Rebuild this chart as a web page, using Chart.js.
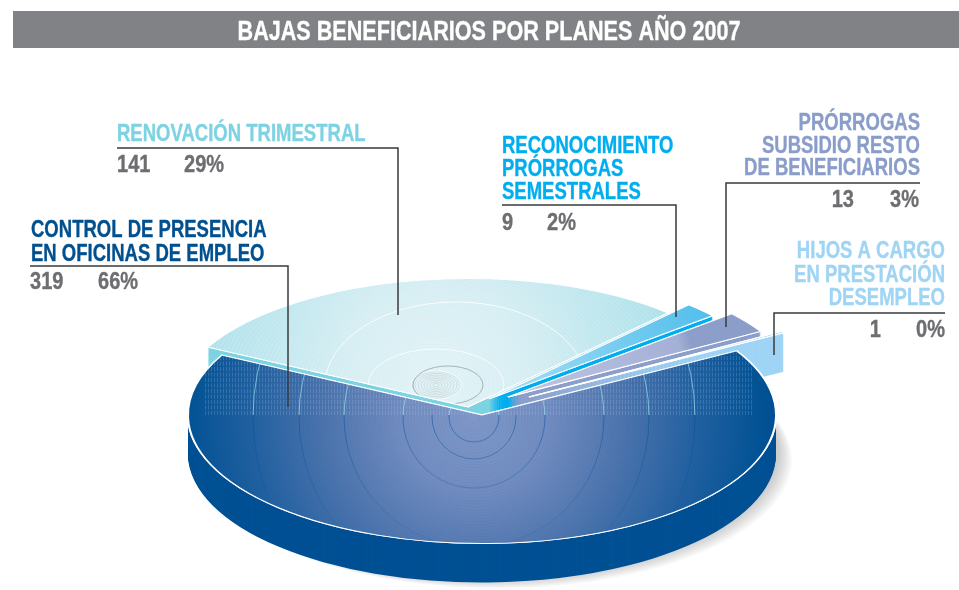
<!DOCTYPE html>
<html><head><meta charset="utf-8">
<style>html,body{margin:0;padding:0;background:#fff}#wrap{width:959px;height:590px}</style>
<script src="https://cdn.jsdelivr.net/npm/chart.js@4/dist/chart.umd.min.js"></script>
</head><body><div id="wrap"><canvas id="c" width="959" height="590"></canvas></div>
<script>
const titleText = "BAJAS BENEFICIARIOS POR PLANES AÑO 2007";
const categories = ["CONTROL DE PRESENCIA|EN OFICINAS DE EMPLEO","RENOVACIÓN TRIMESTRAL","RECONOCIMIENTO|PRÓRROGAS|SEMESTRALES","PRÓRROGAS|SUBSIDIO RESTO|DE BENEFICIARIOS","HIJOS A CARGO|EN PRESTACIÓN|DESEMPLEO"];
const values = [319,141,9,13,1];
const percents = ["66%","29%","2%","3%","0%"];
const labelColors = ["#00508f","#7dd3e2","#00aeef","#8a9dca","#9fd4f5"];
const wallColors = ["#005094","#7dd3e2","#00aeef","#8c9fcb","#9fd4f5"];
const explodeX = [12,-2,19,38,59];
const explodeY = [8,0,-8,-10,-10];
const drawOrder = [1,2,3,4,0];

const pieCy = 407, squash = 0.437, depth = 39;
const callouts = [
 {x:31,align:'left',base:[237,261],rule:[30,266,288,407],num:[[30,'left'],[98,'left']],numY:289},
 {x:117,align:'left',base:[141],rule:[117,148,398,315],num:[[117,'left'],[184,'left']],numY:172},
 {x:502,align:'left',base:[153,176,199],rule:[502,205,676,317],num:[[502,'left'],[547,'left']],numY:230},
 {x:920,align:'right',base:[130,153,175],rule:[920,183,726,327],num:[[854,'right'],[919,'right']],numY:207},
 {x:945,align:'right',base:[258,282,305],rule:[945,313,774,355],num:[[881,'right'],[945,'right']],numY:337}
];
const FONT = '"Liberation Sans",Arial,sans-serif';

function slicePath(ctx, a){
  ctx.beginPath();ctx.moveTo(a.x,a.y);
  ctx.arc(a.x,a.y,a.outerRadius,a.startAngle,a.endAngle);ctx.closePath();
}
function inSlice(ctx,chart,i,ox,oy,fn){
  const a=chart.getDatasetMeta(0).data[i];
  ctx.save();
  ctx.translate(chart.width/2+explodeX[i]-9.5+ox,pieCy+explodeY[i]+oy);
  ctx.scale(1,squash);ctx.translate(-a.x,-a.y);
  fn(a);ctx.restore();
}
function withOpts(a,o,fn){const s=a.options;a.options=Object.assign({},s,o);fn();a.options=s;}

function screenDecor(ctx,chart,i,fn){
  ctx.save();
  const a=chart.getDatasetMeta(0).data[i];
  ctx.translate(chart.width/2+explodeX[i]-9.5,pieCy+explodeY[i]);
  ctx.scale(1,squash);ctx.translate(-a.x,-a.y);
  slicePath(ctx,a);
  ctx.setTransform(1,0,0,1,0,0);
  ctx.clip();
  fn();
  ctx.restore();
}
function rad(ctx,x,y,r,stops){const g=ctx.createRadialGradient(x,y,0,x,y,r);stops.forEach(s=>g.addColorStop(s[0],s[1]));return g;}
function lin(ctx,x0,y0,x1,y1,stops){const g=ctx.createLinearGradient(x0,y0,x1,y1);stops.forEach(s=>g.addColorStop(s[0],s[1]));return g;}
function ring(ctx,x,y,rx,ry){ctx.beginPath();ctx.ellipse(x,y,rx,ry,0,0,Math.PI*2);ctx.stroke();}

function decorate(ctx,chart,i){
  const W=chart.width;
  if(i===0){
    screenDecor(ctx,chart,i,()=>{
      const cx=474,cy=417;
      ctx.fillStyle=rad(ctx,cx,cy,300,[[0,'#7f98c8'],[0.25,'#718cc0'],[0.5,'#4c74ad'],[0.75,'#2060a0'],[0.97,'#005294'],[1,'#005093']]);
      ctx.fillRect(0,300,W,290);
      ctx.lineWidth=.5;ctx.strokeStyle='rgba(40,80,150,.09)';
      for(let r=6;r<300;r+=3){ring(ctx,cx,cy,r,r);}
      const mains=[25,71,130,175,221];
      ctx.save();ctx.beginPath();ctx.rect(0,415,W,175);ctx.clip();
      ctx.lineWidth=.8;ctx.strokeStyle=lin(ctx,0,415,0,545,[[0,'rgba(0,80,150,.65)'],[1,'rgba(0,80,150,.12)']]);
      mains.forEach(m=>ring(ctx,cx,cy,m,m));
      ring(ctx,cx,cy,42,42);
      ctx.restore();
      ctx.save();ctx.beginPath();ctx.rect(0,340,W,75);ctx.clip();
      ctx.lineWidth=1;ctx.strokeStyle='rgba(190,215,240,.2)';ctx.setLineDash([4,1.5]);
      for(let x=205;x<752;x+=3){ctx.beginPath();ctx.moveTo(x+.5,415);ctx.lineTo(x+.5,340);ctx.stroke();}
      ctx.setLineDash([]);
      ctx.lineWidth=1;ctx.strokeStyle='rgba(150,225,235,.7)';mains.forEach(m=>ring(ctx,cx,cy,m,m));
      ctx.restore();
    });
  } else if(i===1){
    screenDecor(ctx,chart,i,()=>{
      const cx=436,cy=385;
      ctx.fillStyle=rad(ctx,cx,cy,235,[[0,'#e2f3f6'],[0.4,'#d6eef3'],[0.7,'#c2e8ef'],[1,'#b0e2ec']]);
      ctx.fillRect(150,260,640,170);
      ctx.lineWidth=.5;ctx.strokeStyle='rgba(255,255,255,.35)';
      for(let r=8;r<250;r+=4){ring(ctx,cx,cy,r,r*.62);}
      ctx.lineWidth=1;ctx.strokeStyle='rgba(255,255,255,.8)';
      ring(ctx,456,386,131,84);ring(ctx,436,385,68,36);ring(ctx,436,385,25,14);
      ctx.lineWidth=.6;ctx.strokeStyle='rgba(120,140,150,.3)';
      for(let r=3;r<26;r+=3){ring(ctx,436,385,r,r*.55);}
      ctx.strokeStyle='rgba(120,130,135,.55)';ctx.lineWidth=1;ring(ctx,448,385,35,19);
    });
  } else if(i===2){
    screenDecor(ctx,chart,i,()=>{
      ctx.fillStyle=lin(ctx,490,402,700,305,[[0,'#aae0f6'],[1,'#55bfec']]);ctx.fillRect(470,290,260,130);
    });
  } else if(i===3){
    screenDecor(ctx,chart,i,()=>{
      ctx.fillStyle=lin(ctx,510,397,750,320,[[0,'#c0c6e2'],[0.7,'#a4b0d6'],[0.75,'#8c9ec9'],[1,'#8b9dc9']]);ctx.fillRect(480,290,300,130);
    });
  }
}
function condensed(ctx,t,x,y,sx,sw){ctx.save();ctx.translate(x,y);ctx.scale(sx,1);ctx.fillText(t,0,0);if(sw){ctx.strokeStyle=ctx.fillStyle;ctx.lineWidth=sw;ctx.lineJoin='round';ctx.strokeText(t,0,0);}ctx.restore();}
const pie3d={id:'pie3d',
  beforeDraw(chart){
    const ctx=chart.ctx;ctx.save();ctx.fillStyle='#fff';ctx.fillRect(0,0,chart.width,chart.height);
    ctx.fillStyle='#808285';ctx.fillRect(13,11,chart.width-13,37);ctx.restore();
  },
  beforeDatasetsDraw(chart){
    const ctx=chart.ctx;
    for(let k=0;k<9;k++){
      inSlice(ctx,chart,0,3+k*1.6,depth-2+k,a=>{
        ctx.fillStyle='rgba(90,90,95,.04)';slicePath(ctx,a);ctx.fill();
      });
    }
    drawOrder.forEach(i=>{
      const a=chart.getDatasetMeta(0).data[i];
      for(let d=depth;d>=1;d--){
        inSlice(ctx,chart,i,0,d,()=>{withOpts(a,{backgroundColor:wallColors[i],borderWidth:0},()=>a.draw(ctx));});
      }
      inSlice(ctx,chart,i,0,0,()=>{a.draw(ctx);});
      decorate(ctx,chart,i);
      inSlice(ctx,chart,i,0,0,()=>{withOpts(a,{backgroundColor:'rgba(0,0,0,0)'},()=>a.draw(ctx));});
    });
    return false;
  },
  afterDraw(chart){
    const ctx=chart.ctx;ctx.save();
    ctx.textBaseline='alphabetic';
    ctx.fillStyle='#fff';ctx.textAlign='center';ctx.font='bold 27px '+FONT;
    condensed(ctx,titleText,489,40,0.8,.35);
    callouts.forEach((c,i)=>{
      ctx.strokeStyle='#3a3a3c';ctx.lineWidth=1.5;
      const r=c.rule;ctx.beginPath();ctx.moveTo(r[0],r[1]);ctx.lineTo(r[2],r[1]);ctx.lineTo(r[2],r[3]);ctx.stroke();
      ctx.font='bold 23px '+FONT;ctx.fillStyle=labelColors[i];ctx.textAlign=c.align;
      categories[i].split('|').forEach((t,j)=>condensed(ctx,t,c.x,c.base[j],0.805,.35));
      ctx.fillStyle='#6d6e71';
      ctx.textAlign=c.num[0][1];condensed(ctx,String(values[i]),c.num[0][0],c.numY,0.87,.35);
      ctx.textAlign=c.num[1][1];condensed(ctx,percents[i],c.num[1][0],c.numY,0.87,.35);
    });
    ctx.restore();
  }
};
new Chart(document.getElementById('c'),{
  type:'pie',
  data:{labels:categories.map(s=>s.replace(/\|/g,' ')),datasets:[{data:values,backgroundColor:wallColors,borderColor:'#ffffff',borderWidth:2,hoverOffset:0,borderJoinStyle:'miter'}]},
  options:{responsive:false,animation:false,events:[],rotation:60,
    layout:{padding:0},
    plugins:{legend:{display:false},tooltip:{enabled:false},title:{display:false}}},
  plugins:[pie3d]
});
</script></body></html>
